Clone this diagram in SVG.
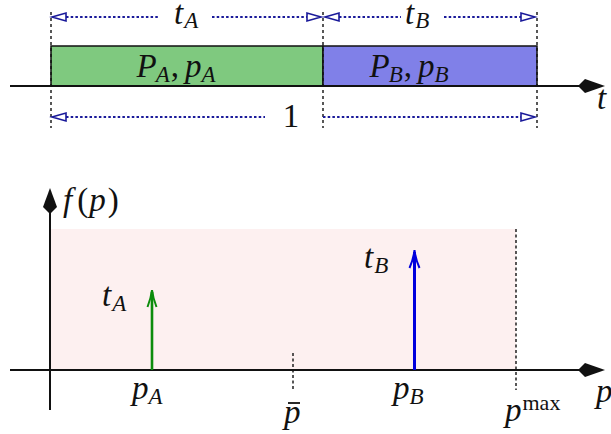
<svg xmlns="http://www.w3.org/2000/svg" width="611" height="434" viewBox="0 0 611 434" font-family="'Liberation Serif', 'Times New Roman', 'DejaVu Serif', serif">
<style>
text { font-family: 'Liberation Serif', 'Times New Roman', 'DejaVu Serif', serif; font-size: 33px; fill: #111; }
.i { font-style: italic; }
.sub { font-size: 23px; font-style: italic; }
.sup { font-size: 22px; }
.axis { stroke: #111; stroke-width: 2; fill: none; }
.kite { fill: #111; stroke: none; }
.dash { stroke: #111; stroke-width: 1.4; stroke-dasharray: 3 3; fill: none; }
.dot { stroke: #1a1a9a; stroke-width: 1.8; stroke-dasharray: 2.5 2.2; fill: none; }
.ohead { stroke: #1a1a9a; stroke-width: 1.6; fill: #fff; stroke-linejoin: miter; }
.kdot { stroke: #111; stroke-width: 1.4; stroke-dasharray: 3 2.5; fill: none; }
</style>

<!-- top panel -->
<g id="segA">
  <rect x="51" y="46" width="272" height="40" fill="#7fc97f" stroke="#111" stroke-width="1.5"/>
  <text x="176" y="77" text-anchor="middle"><tspan class="i">P</tspan><tspan class="sub" dy="5" dx="-1">A</tspan><tspan dy="-5" dx="1">,</tspan><tspan class="i" dx="6">p</tspan><tspan class="sub" dy="5">A</tspan></text>
</g>
<g id="segB">
  <rect x="323" y="46" width="214" height="40" fill="#8080e8" stroke="#111" stroke-width="1.5"/>
  <text x="409" y="77" text-anchor="middle"><tspan class="i">P</tspan><tspan class="sub" dy="5" dx="-1">B</tspan><tspan dy="-5" dx="1">,</tspan><tspan class="i" dx="6">p</tspan><tspan class="sub" dy="5">B</tspan></text>
</g>
<g id="axis-t">
  <line class="axis" x1="10" y1="86" x2="580" y2="86"/>
  <path class="kite" d="M578,86 L585,79 L605,86 L585,93 Z"/>
  <text class="i" x="597" y="109">t</text>
</g>

<g id="connectors">
  <line class="dash" x1="51" y1="12" x2="51" y2="128"/>
  <line class="dash" x1="323" y1="12" x2="323" y2="128"/>
  <line class="dash" x1="537" y1="12" x2="537" y2="128"/>
  <line class="dot" x1="66" y1="17" x2="160" y2="17"/>
  <line class="dot" x1="212" y1="17" x2="307" y2="17"/>
  <polygon class="ohead" points="52,17 66,13 66,21"/>
  <polygon class="ohead" points="321,17 307,13 307,21"/>
  <line class="dot" x1="339" y1="17" x2="401" y2="17"/>
  <line class="dot" x1="444" y1="17" x2="521" y2="17"/>
  <polygon class="ohead" points="325,17 339,13 339,21"/>
  <polygon class="ohead" points="535,17 521,13 521,21"/>
  <line class="dot" x1="66" y1="117" x2="265" y2="117"/>
  <line class="dot" x1="323" y1="117" x2="521" y2="117"/>
  <polygon class="ohead" points="52,117 66,113 66,121"/>
  <polygon class="ohead" points="535,117 521,113 521,121"/>
</g>
<g id="labels-top">
  <text x="174" y="24"><tspan class="i">t</tspan><tspan class="sub" dy="4" dx="1">A</tspan></text>
  <text x="405" y="24"><tspan class="i">t</tspan><tspan class="sub" dy="4" dx="1">B</tspan></text>
  <text x="291" y="127" text-anchor="middle">1</text>
</g>

<!-- bottom panel -->
<g id="region">
  <rect x="50" y="229" width="466" height="141" fill="#fdf0f0"/>
  <line class="kdot" x1="516" y1="229" x2="516" y2="390"/>
  <line class="kdot" x1="293" y1="353" x2="293" y2="390"/>
</g>
<g id="axis-p">
  <line class="axis" x1="10" y1="370" x2="580" y2="370"/>
  <path class="kite" d="M578,370 L585,363 L605,370 L585,377 Z"/>
  <text class="i" x="596" y="402">p</text>
</g>
<g id="axis-f">
  <line class="axis" x1="50" y1="410" x2="50" y2="212"/>
  <path class="kite" d="M50,214 L43,207 L50,188 L57,207 Z"/>
  <text x="63" y="211"><tspan class="i">f</tspan><tspan dx="5">(</tspan><tspan class="i" dx="1">p</tspan><tspan dx="2">)</tspan></text>
</g>
<g id="arrowA">
  <line x1="152" y1="370" x2="152" y2="292" stroke="#0c8c0c" stroke-width="2.6"/>
  <path d="M147.5,307 Q151,298 152,290 Q153,298 156.5,307" stroke="#0c8c0c" stroke-width="2" fill="none"/>
  <text x="102" y="306"><tspan class="i">t</tspan><tspan class="sub" dy="5" dx="1">A</tspan></text>
</g>
<g id="arrowB">
  <line x1="414.5" y1="370" x2="414.5" y2="252" stroke="#0000dd" stroke-width="3"/>
  <path d="M409.5,268 Q413.5,259 414.5,250 Q415.5,259 419.5,268" stroke="#0000dd" stroke-width="2" fill="none"/>
  <text x="364" y="268"><tspan class="i">t</tspan><tspan class="sub" dy="5" dx="1">B</tspan></text>
</g>
<g id="labels-bottom">
  <text x="132" y="399"><tspan class="i">p</tspan><tspan class="sub" dy="5">A</tspan></text>
  <text x="393" y="399"><tspan class="i">p</tspan><tspan class="sub" dy="5">B</tspan></text>
  <text class="i" x="284" y="423">p</text>
  <line x1="288" y1="403" x2="300" y2="403" stroke="#111" stroke-width="1.8"/>
  <text x="505" y="421"><tspan class="i">p</tspan><tspan class="sup" dy="-11" dx="1">max</tspan></text>
</g>
</svg>
